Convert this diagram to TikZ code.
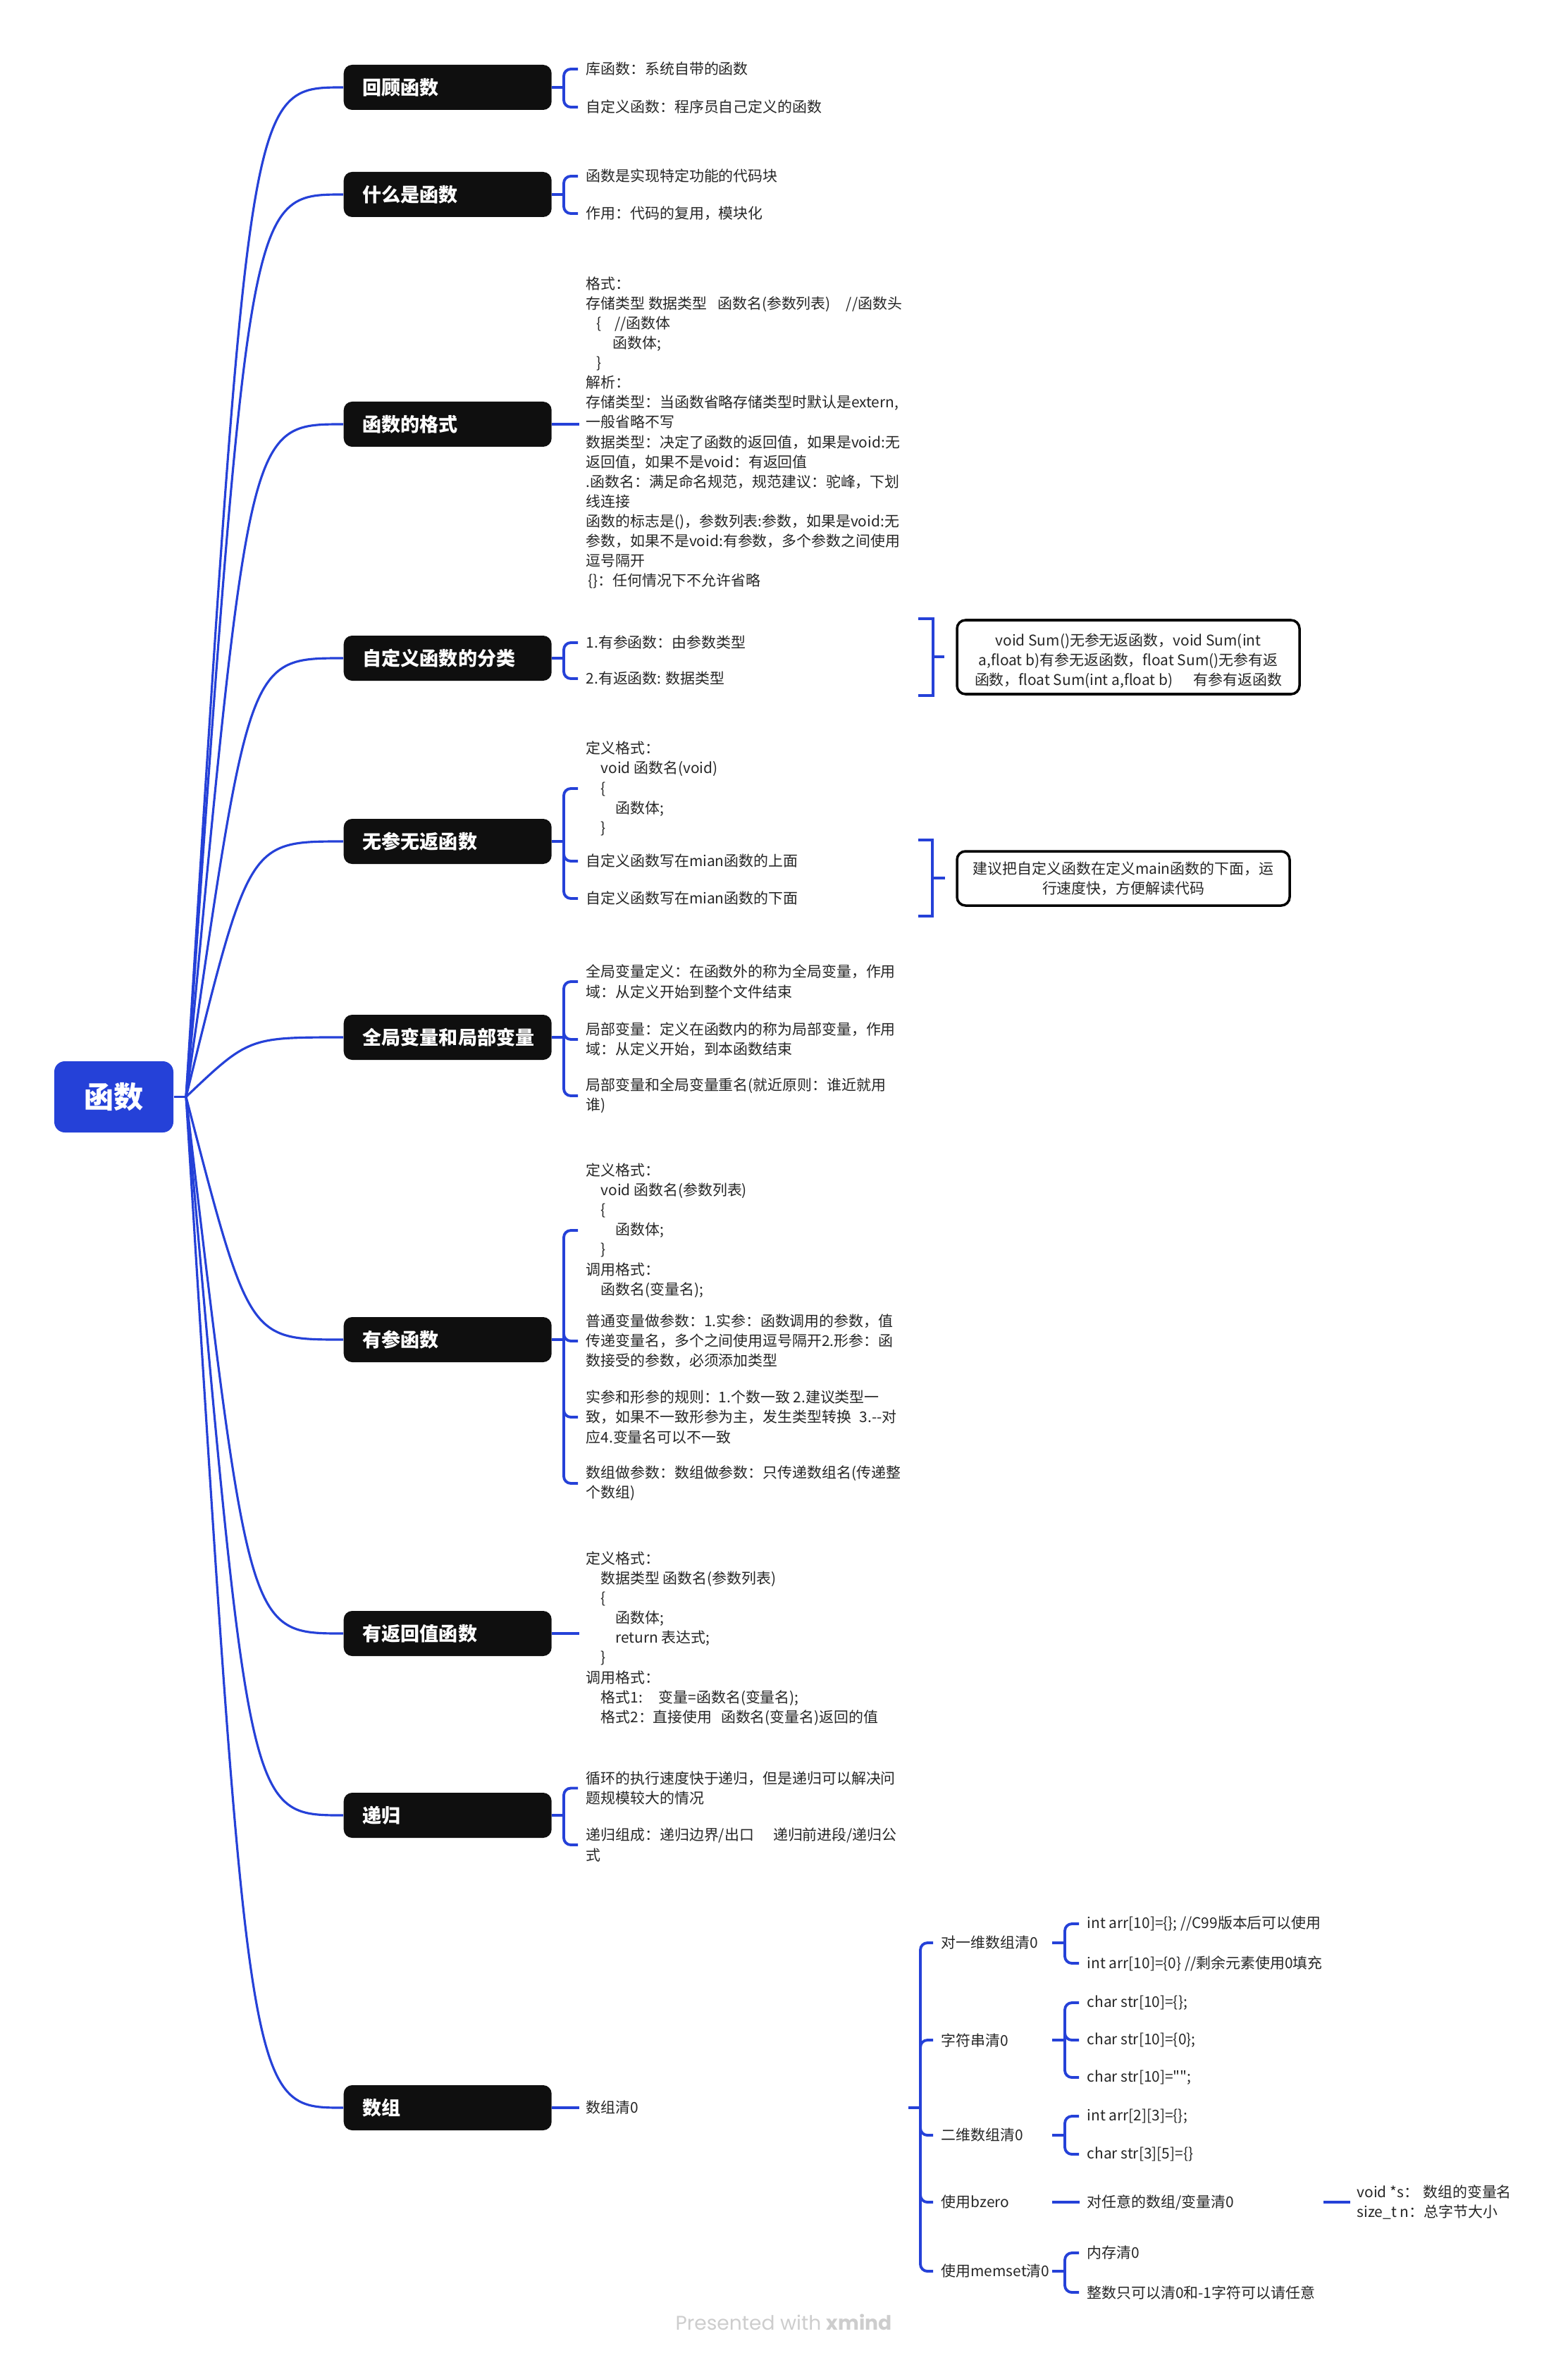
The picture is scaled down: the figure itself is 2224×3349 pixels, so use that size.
\documentclass[tikz,border=0pt]{standalone}
\usepackage{fontspec}
\setmainfont{Noto Sans CJK SC}
\newfontfamily\nq{Noto Sans CJK SC}[Ligatures=TeXOff]
\newfontfamily\wmfont{Poppins}
\usetikzlibrary{calc}
\definecolor{cblue}{RGB}{37,65,216}
\definecolor{cblack}{RGB}{15,15,15}
\definecolor{ctext}{RGB}{38,38,38}
\definecolor{cwm}{RGB}{205,205,205}
\newcommand{\brkto}[2]{\draw[brk] (#1) |- ($(#2.west)+(-11,0)$);}
\begin{document}
\begin{tikzpicture}[x=0.1mm,y=-0.1mm,
  conn/.style={draw=cblue, line width=0.9pt},
  brk/.style={draw=cblue, line width=1.1pt, rounded corners=1mm},
  sbrk/.style={draw=cblue, line width=1.1pt},
  rootbox/.style={fill=cblue, rounded corners=1.5mm, minimum width=16.9mm, minimum height=10.1mm, inner sep=0pt, text=white, font=\fontsize{12}{14}\selectfont\bfseries},
  branch/.style={fill=cblack, rounded corners=1.2mm, minimum width=29.5mm, minimum height=6.4mm, text width=24.1mm, align=left, inner xsep=2.7mm, inner ysep=0pt, text=white, font=\fontsize{7.7}{9}\selectfont\bfseries, anchor=west},
  leaf/.style={anchor=west, inner sep=0pt, align=left, text=ctext, font=\fontsize{5.95}{8}\selectfont},
  sumbox/.style={draw=black, line width=1pt, fill=white, rounded corners=1.2mm, inner sep=0pt, align=center, text=ctext, font=\fontsize{5.95}{8.1}\selectfont}
]
\fill[white] (0,0) rectangle (2224,3349);
\useasboundingbox (0,0) rectangle (2224,3349);

% ---------- root and main branches ----------
\node[rootbox] (root) at (161.5,1556.5) {函数};
\coordinate (F) at (264,1556.5);
\coordinate (cx) at (353,0);
\coordinate (kx) at (800,0);
\coordinate (ex) at (822,0);

\node[branch] (b1) at (487,124) {回顾函数};
\node[branch] (b2) at (487,276) {什么是函数};
\node[branch] (b3) at (487,602) {函数的格式};
\node[branch] (b4) at (487,934) {自定义函数的分类};
\node[branch] (b5) at (487,1194) {无参无返函数};
\node[branch] (b6) at (487,1472) {全局变量和局部变量};
\node[branch] (b7) at (487,1901) {有参函数};
\node[branch] (b8) at (487,2318) {有返回值函数};
\node[branch] (b9) at (487,2576) {递归};
\node[branch] (b10) at (487,2991) {数组};

\draw[conn] (root.east) -- (F);
\foreach \b in {b1,b2,b3,b4,b5,b6,b7,b8,b9,b10}{
  \draw[conn] (F) .. controls (cx |- \b.west) .. (\b.west);
}

% ---------- group 1 ----------
\node[leaf] (l1a) at (831,98) {库函数：系统自带的函数};
\node[leaf] (l1b) at (831,152) {自定义函数：程序员自己定义的函数};
\coordinate (j1) at (kx |- b1.east);
\draw[brk] (b1.east) -- (j1);
\brkto{j1}{l1a}
\brkto{j1}{l1b}

% ---------- group 2 ----------
\node[leaf] (l2a) at (831,250) {函数是实现特定功能的代码块};
\node[leaf] (l2b) at (831,303) {作用：代码的复用，模块化};
\coordinate (j2) at (kx |- b2.east);
\draw[brk] (b2.east) -- (j2);
\brkto{j2}{l2a}
\brkto{j2}{l2b}

% ---------- group 3 ----------
\node[leaf] (l3) at (831,614) {格式：\\
存储类型 数据类型\hspace{0.7em}函数名(参数列表)\hspace{1.05em}//函数头\\
\hspace*{0.7em}\{\hspace{0.9em}//函数体\\
\hspace*{1.8em}函数体;\\
\hspace*{0.7em}\}\\
解析：\\
存储类型：当函数省略存储类型时默认是extern,\\
一般省略不写\\
数据类型：决定了函数的返回值，如果是void:无\\
返回值，如果不是void：有返回值\\
.函数名：满足命名规范，规范建议：驼峰，下划\\
线连接\\
函数的标志是()，参数列表:参数，如果是void:无\\
参数，如果不是void:有参数，多个参数之间使用\\
逗号隔开\\
\hspace*{0.15em}\{\}：任何情况下不允许省略};
\draw[brk] (b3.east) -- (ex |- b3.east);

% ---------- group 4 ----------
\node[leaf] (l4a) at (831,912) {1.有参函数：由参数类型};
\node[leaf] (l4b) at (831,963) {2.有返函数: 数据类型};
\coordinate (j4) at (kx |- b4.east);
\draw[brk] (b4.east) -- (j4);
\brkto{j4}{l4a}
\brkto{j4}{l4b}
\coordinate (s4) at (1303,878);
\draw[sbrk] (s4) -- ++(21,0) -- ++(0,109) -- ++(-21,0);
\coordinate (s4m) at (1324,932);
\node[sumbox, minimum width=48.6mm, minimum height=10.5mm] (sum4) at (1601,932.5) {\rule{0pt}{8pt}void Sum()无参无返函数，void Sum(int\\
a,float b)有参无返函数，float Sum()无参有返\\
函数，float Sum(int a,float b)\hspace{1.4em}有参有返函数};
\draw[sbrk] (s4m) -- ++(16,0);

% ---------- group 5 ----------
\node[leaf] (l5a) at (831,1119) {定义格式：\\
\hspace*{1em}void 函数名(void)\\
\hspace*{1em}\{\\
\hspace*{2em}函数体;\\
\hspace*{1em}\}};
\node[leaf] (l5b) at (831,1222) {自定义函数写在mian函数的上面};
\node[leaf] (l5c) at (831,1275) {自定义函数写在mian函数的下面};
\coordinate (j5) at (kx |- b5.east);
\draw[brk] (b5.east) -- (j5);
\brkto{j5}{l5a}
\brkto{j5}{l5b}
\brkto{j5}{l5c}
\coordinate (s5) at (1303,1192);
\draw[sbrk] (s5) -- ++(20,0) -- ++(0,108) -- ++(-20,0);
\coordinate (s5m) at (1323,1246);
\node[sumbox, minimum width=47.2mm, minimum height=7.7mm] (sum5) at (1594,1246.5) {建议把自定义函数在定义main函数的下面，运\\
行速度快，方便解读代码};
\draw[sbrk] (s5m) -- ++(18,0);

% ---------- group 6 ----------
\node[leaf] (l6a) at (831,1393) {全局变量定义：在函数外的称为全局变量，作用\\域：从定义开始到整个文件结束};
\node[leaf] (l6b) at (831,1475) {局部变量：定义在函数内的称为局部变量，作用\\域：从定义开始，到本函数结束};
\node[leaf] (l6c) at (831,1555) {局部变量和全局变量重名(就近原则：谁近就用\\谁)};
\coordinate (j6) at (kx |- b6.east);
\draw[brk] (b6.east) -- (j6);
\brkto{j6}{l6a}
\brkto{j6}{l6b}
\brkto{j6}{l6c}

% ---------- group 7 ----------
\node[leaf] (l7a) at (831,1746) {定义格式：\\
\hspace*{1em}void 函数名(参数列表)\\
\hspace*{1em}\{\\
\hspace*{2em}函数体;\\
\hspace*{1em}\}\\
调用格式：\\
\hspace*{1em}函数名(变量名);};
\node[leaf] (l7b) at (831,1903) {普通变量做参数：1.实参：函数调用的参数，值\\
传递变量名，多个之间使用逗号隔开2.形参：函\\
数接受的参数，必须添加类型};
\node[leaf] (l7c) at (831,2011) {实参和形参的规则：1.个数一致 2.建议类型一\\
致，如果不一致形参为主，发生类型转换\hspace{0.55em}3.-{}-对\\
应4.变量名可以不一致};
\node[leaf] (l7d) at (831,2105) {数组做参数：数组做参数：只传递数组名(传递整\\个数组)};
\coordinate (j7) at (kx |- b7.east);
\draw[brk] (b7.east) -- (j7);
\brkto{j7}{l7a}
\brkto{j7}{l7b}
\brkto{j7}{l7c}
\brkto{j7}{l7d}

% ---------- group 8 ----------
\node[leaf] (l8) at (831,2325) {定义格式：\\
\hspace*{1em}数据类型 函数名(参数列表)\\
\hspace*{1em}\{\\
\hspace*{2em}函数体;\\
\hspace*{2em}return 表达式;\\
\hspace*{1em}\}\\
调用格式：\\
\hspace*{1em}格式1:\hspace{1.1em}变量=函数名(变量名);\\
\hspace*{1em}格式2：直接使用\hspace{0.6em}函数名(变量名)返回的值};
\draw[brk] (b8.east) -- (ex |- b8.east);

% ---------- group 9 ----------
\node[leaf] (l9a) at (831,2537.5) {循环的执行速度快于递归，但是递归可以解决问\\题规模较大的情况};
\node[leaf] (l9b) at (831,2618) {递归组成：递归边界/出口\hspace{1.3em}递归前进段/递归公\\式};
\coordinate (j9) at (kx |- b9.east);
\draw[brk] (b9.east) -- (j9);
\brkto{j9}{l9a}
\brkto{j9}{l9b}

% ---------- group 10 ----------
\node[leaf] (l10) at (831,2991) {数组清0};
\draw[brk] (b10.east) -- (ex |- b10.east);
\coordinate (a2) at (1289,0);
\coordinate (x2) at (1306,0);
\coordinate (a3) at (1493,0);
\coordinate (x3) at (1511,0);
\coordinate (a4) at (1878,0);

\node[leaf] (m1) at (1335,2757) {对一维数组清0};
\node[leaf] (m2) at (1335,2895) {字符串清0};
\node[leaf] (m3) at (1335,3030) {二维数组清0};
\node[leaf] (m4) at (1335,3125) {使用bzero};
\node[leaf] (m5) at (1335,3223) {使用memset清0};
\coordinate (j10) at (x2 |- l10.west);
\draw[brk] (a2 |- l10.west) -- (j10);
\foreach \m in {m1,m2,m3,m4,m5}{\brkto{j10}{\m}}

\node[leaf] (p1a) at (1542,2730) {int arr[10]=\{\}; //C99版本后可以使用};
\node[leaf] (p1b) at (1542,2786) {int arr[10]=\{0\} //剩余元素使用0填充};
\coordinate (jm1) at (x3 |- m1.west);
\draw[brk] (a3 |- m1.west) -- (jm1);
\brkto{jm1}{p1a}
\brkto{jm1}{p1b}

\node[leaf] (p2a) at (1542,2842) {char str[10]=\{\};};
\node[leaf] (p2b) at (1542,2895) {char str[10]=\{0\};};
\node[leaf] (p2c) at (1542,2948) {{\nq char str[10]="";}};
\coordinate (jm2) at (x3 |- m2.west);
\draw[brk] (a3 |- m2.west) -- (jm2);
\brkto{jm2}{p2a}
\brkto{jm2}{p2b}
\brkto{jm2}{p2c}

\node[leaf] (p3a) at (1542,3003) {int arr[2][3]=\{\};};
\node[leaf] (p3b) at (1542,3057) {char str[3][5]=\{\}};
\coordinate (jm3) at (x3 |- m3.west);
\draw[brk] (a3 |- m3.west) -- (jm3);
\brkto{jm3}{p3a}
\brkto{jm3}{p3b}

\node[leaf] (p4) at (1542,3125) {对任意的数组/变量清0};
\draw[brk] (a3 |- m4.west) -- ($(p4.west)+(-10,0)$);
\node[leaf] (q4) at (1925,3125) {void *s：\hspace{0.3em}数组的变量名\\size\_t n：总字节大小};
\draw[brk] (a4 |- p4.west) -- ($(q4.west)+(-9,0)$);

\node[leaf] (p5a) at (1542,3197) {内存清0};
\node[leaf] (p5b) at (1542,3253) {整数只可以清0和-1字符可以请任意};
\coordinate (jm5) at (x3 |- m5.west);
\draw[brk] (a3 |- m5.west) -- (jm5);
\brkto{jm5}{p5a}
\brkto{jm5}{p5b}

% ---------- watermark ----------
\node[font=\wmfont\fontsize{8}{9}\selectfont, text=cwm, inner sep=0pt] (wm) at (1112,3295) {Presented with \textbf{xmind}};
\end{tikzpicture}
\end{document}
